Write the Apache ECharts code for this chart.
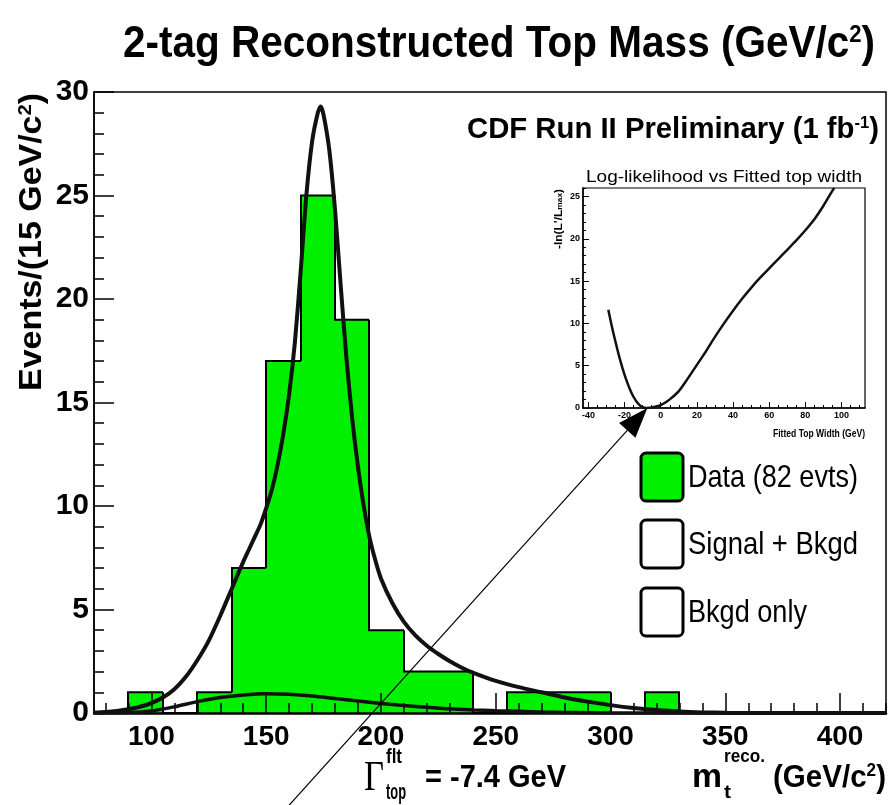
<!DOCTYPE html>
<html><head><meta charset="utf-8">
<script src="https://cdn.jsdelivr.net/npm/echarts@6/dist/echarts.min.js"></script>
<style>html,body{margin:0;padding:0;background:#fff}#c{width:890px;height:805px}</style>
</head><body><div id="c"></div>
<script>
// ---------------- data ----------------
const binLow    = [90,105,120,135,150,165,180,195,210,225,240,255,270,285,300,315];
const binCounts = [1, 0,  1,  7,  17, 25, 19, 4,  2,  2,  0,  1,  1,  1,  0,  1];
const binWidth  = 15;

const fitMass   = [75,80,85,90,95,100,105,110,115,120,125,130,135,140,142.5,145,147.5,150,152.5,155,157.5,160,162.5,165,167.5,170,172.5,173.75,175,177.5,180,182.5,185,187.5,190,192.5,195,197.5,200,205,210,215,220,225,230,235,240,250,260,270,280,290,300,310,320,330,340,350,360,420];
const fitSigBkg = [0.02,0.05,0.1,0.18,0.3,0.48,0.75,1.15,1.75,2.55,3.5,4.7,6.0,7.3,7.9,8.5,9.1,9.9,10.8,12.0,13.5,15.4,17.9,21.3,25.0,27.6,29.0,29.3,28.9,27.2,24.3,20.6,17.1,14.2,11.9,10.0,8.5,7.4,6.5,5.3,4.4,3.75,3.25,2.85,2.5,2.2,1.95,1.55,1.25,1.0,0.75,0.55,0.38,0.24,0.14,0.07,0.03,0.01,0,0];

const bkgMass   = [75,90,100,110,120,130,140,150,160,170,180,190,200,210,220,230,240,250,260,270,280,300,420];
const bkgOnly   = [0,0.02,0.1,0.3,0.55,0.75,0.87,0.93,0.9,0.82,0.7,0.58,0.46,0.36,0.28,0.2,0.15,0.11,0.08,0.05,0.03,0.0,0.0];

const llWidth = [-29,-27,-25,-23,-21,-19,-17,-15,-13,-11,-9,-7.4,-5,-2,0,3,6,10,15,20,25,30,35,40,45,50,55,60,65,70,75,80,85,90,95,96];
const llValue = [11.6,9.6,7.8,6.1,4.6,3.3,2.2,1.3,0.65,0.22,0.03,0,0.05,0.2,0.35,0.7,1.2,2.0,3.5,5.1,6.7,8.4,10.0,11.5,12.9,14.2,15.4,16.5,17.6,18.7,19.8,21.0,22.3,23.9,25.7,26];

const fittedWidth = -7.4;

const xTickLabels      = [100,150,200,250,300,350,400];
const yTickLabels      = [0,5,10,15,20,25,30];
const insetXTickLabels = [-40,-20,0,20,40,60,80,100];
const insetYTickLabels = [0,5,10,15,20,25];

// ---------------- helpers ----------------
const FAM = '"Liberation Sans", Arial, Helvetica, sans-serif';
const SERIF = '"Liberation Serif", "Times New Roman", serif';
const GREEN = '#00f000';
const mctx = document.createElement('canvas').getContext('2d');
function measure(str, size, weight, fam){ mctx.font = (weight||'normal')+' '+size+'px '+(fam||FAM); return mctx.measureText(str).width; }
function range(a,b,s){ const r=[]; for(let v=a; v<=b+1e-9; v+=s) r.push(+v.toFixed(6)); return r; }

function richText(id, x, y, parts, target, opt){
  opt = opt || {};
  const rich = {}; let text = ''; let nat = 0;
  parts.forEach((p,i)=>{
    const [str,size,weight,va,fam] = p;
    const k = 't'+i;
    rich[k] = {fontSize:size, fontWeight:weight||'normal', fontFamily:fam||FAM, fill:'#000', verticalAlign:va||'middle'};
    text += '{'+k+'|'+str+'}';
    nat += measure(str,size,weight,fam);
  });
  return {type:'text', id:id, x:x, y:y, z:100, scaleX: target ? target/nat : 1, rotation: opt.rotation||0,
    style:{text:text, rich:rich, textAlign:opt.align||'left', textVerticalAlign:'middle'}};
}

// ---------------- histogram data ----------------
const histData = binLow.map((lo,i)=>[lo, lo+binWidth, binCounts[i], i>0?binCounts[i-1]:0, i===binLow.length-1?1:0]);

const chart = echarts.init(document.getElementById('c'), null, {renderer:'canvas'});

const axisTxt = {color:'#000', fontFamily:FAM, fontWeight:'bold'};

const option = {
  animation:false,
  backgroundColor:'#fff',
  grid:[
    {left:94, top:92, width:792, height:621, show:true, borderColor:'#000', borderWidth:1.5, backgroundColor:'transparent'},
    {left:583, top:188, width:282, height:220, show:true, borderColor:'#000', borderWidth:1.2, backgroundColor:'#fff'}
  ],
  xAxis:[
    {type:'value', gridIndex:0, min:75, max:420, position:'bottom', z:2,
     axisLine:{show:true, onZero:false, lineStyle:{color:'#000', width:2.5}},
     axisTick:{show:true, inside:true, length:10, customValues: range(80,420,10), lineStyle:{color:'#000', width:1.5}},
     axisLabel:Object.assign({fontSize:28, margin:10, customValues: xTickLabels}, axisTxt),
     splitLine:{show:false}},
    {type:'value', gridIndex:0, min:75, max:420, position:'bottom', z:2,
     axisLine:{show:false, onZero:false}, axisLabel:{show:false}, splitLine:{show:false},
     axisTick:{show:true, inside:true, length:20, customValues: xTickLabels, lineStyle:{color:'#000', width:1.5}}},
    {type:'value', gridIndex:1, min:-43, max:113, position:'bottom', z:2,
     axisLine:{show:true, onZero:false, lineStyle:{color:'#000', width:1.5}},
     axisTick:{show:true, inside:true, length:3, customValues: range(-40,110,5), lineStyle:{color:'#000', width:1}},
     axisLabel:Object.assign({fontSize:9, margin:3, customValues: insetXTickLabels}, axisTxt),
     splitLine:{show:false}},
    {type:'value', gridIndex:1, min:-43, max:113, position:'bottom', z:2,
     axisLine:{show:false, onZero:false}, axisLabel:{show:false}, splitLine:{show:false},
     axisTick:{show:true, inside:true, length:6, customValues: insetXTickLabels, lineStyle:{color:'#000', width:1}}}
  ],
  yAxis:[
    {type:'value', gridIndex:0, min:0, max:30, interval:5, position:'left', z:2,
     axisLine:{show:true, onZero:false, lineStyle:{color:'#000', width:1.5}},
     axisTick:{show:true, inside:true, length:20, lineStyle:{color:'#000', width:1.5}},
     minorTick:{show:true, splitNumber:5, length:10, lineStyle:{color:'#000', width:1.5}},
     axisLabel:Object.assign({fontSize:30, margin:5, customValues: yTickLabels}, axisTxt),
     splitLine:{show:false}, minorSplitLine:{show:false}},
    {type:'value', gridIndex:1, min:0, max:26, position:'left', z:2,
     axisLine:{show:true, onZero:false, lineStyle:{color:'#000', width:1.5}},
     axisTick:{show:true, inside:true, length:3, customValues: range(0,26,1), lineStyle:{color:'#000', width:1}},
     axisLabel:Object.assign({fontSize:9, margin:3, customValues: insetYTickLabels}, axisTxt),
     splitLine:{show:false}},
    {type:'value', gridIndex:1, min:0, max:26, position:'left', z:2,
     axisLine:{show:false, onZero:false}, axisLabel:{show:false}, splitLine:{show:false},
     axisTick:{show:true, inside:true, length:6, customValues: insetYTickLabels, lineStyle:{color:'#000', width:1}}}
  ],
  series:[
    {name:'Data (82 evts)', type:'custom', xAxisIndex:0, yAxisIndex:0, z:1,
     encode:{x:[0,1], y:2}, data:histData,
     renderItem:function(params, api){
       const lo=api.value(0), hi=api.value(1), v=api.value(2), prev=api.value(3), last=api.value(4);
       const tl=api.coord([lo,v]), br=api.coord([hi,0]), tr=api.coord([hi,v]), pl=api.coord([lo,prev]);
       const x0=Math.round(tl[0]), x1=Math.round(br[0]);
       const children=[];
       if(v>0) children.push({type:'rect', shape:{x:x0, y:tl[1], width:x1-x0, height:br[1]-tl[1]}, style:{fill:GREEN}});
       const pts=[[x0,pl[1]], [x0,tl[1]], [x1,tr[1]]]; if(last) pts.push([x1,br[1]]);
       children.push({type:'polyline', shape:{points:pts}, style:{stroke:'#000', lineWidth:2, fill:'none'}});
       return {type:'group', children:children};
     }},
    {name:'Signal + Bkgd', type:'line', xAxisIndex:0, yAxisIndex:0, z:3, symbol:'none', smooth:0.25,
     lineStyle:{color:'#111', width:4}, data: fitMass.map((m,i)=>[m, fitSigBkg[i]])},
    {name:'Bkgd only', type:'line', xAxisIndex:0, yAxisIndex:0, z:3, symbol:'none', smooth:0.3,
     lineStyle:{color:'#111', width:3.5}, data: bkgMass.map((m,i)=>[m, bkgOnly[i]])},
    {name:'-ln(L/Lmax)', type:'line', xAxisIndex:2, yAxisIndex:1, z:3, symbol:'none', smooth:0.3, clip:true,
     lineStyle:{color:'#111', width:2.5}, data: llWidth.map((w,i)=>[w, llValue[i]])}
  ]
};
chart.setOption(option);

// ---------------- annotations / texts ----------------
const tip = chart.convertToPixel({xAxisIndex:2, yAxisIndex:1}, [fittedWidth, 0]);
const S = [283, 812];
const dx = tip[0]-S[0], dy = tip[1]-S[1], L = Math.hypot(dx,dy);
const ux = dx/L, uy = dy/L, nx = -uy, ny = ux;
const headLen = 30, headHalf = 11;
const B = [tip[0]-ux*headLen, tip[1]-uy*headLen];

const graphics = [
  richText('title', 123, 45, [['2-tag Reconstructed Top Mass (GeV/c',44,'bold'],['2',24,'bold','top'],[')',44,'bold']], 752),
  richText('cdf', 467, 130, [['CDF Run II Preliminary (1 fb',30,'bold'],['-1',17,'bold','top'],[')',30,'bold']], 412),
  richText('ytitle', 32, 93, [['Events/(15 GeV/c',32,'bold'],['2',19,'bold','top'],[')',32,'bold']], 298, {rotation:Math.PI/2, align:'right'}),
  richText('insetTitle', 586, 177, [['Log-likelihood vs Fitted top width',17,'normal']], 276),
  richText('insetY', 559, 189, [["-ln(L'/L",10,'bold'],['max',7,'bold','bottom'],[')',10,'bold']], 60, {rotation:Math.PI/2, align:'right'}),
  richText('insetX', 865, 434, [['Fitted Top Width (GeV)',10,'bold']], 92, {align:'right'}),
  // legend
  {type:'rect', id:'lg0', z:100, shape:{x:641, y:453, width:42, height:48, r:5}, style:{fill:GREEN, stroke:'#000', lineWidth:3}},
  {type:'rect', id:'lg1', z:100, shape:{x:641, y:520, width:42, height:48, r:5}, style:{fill:'#fff', stroke:'#000', lineWidth:3}},
  {type:'rect', id:'lg2', z:100, shape:{x:641, y:588, width:42, height:48, r:5}, style:{fill:'#fff', stroke:'#000', lineWidth:3}},
  richText('lt0', 688, 478, [['Data (82 evts)',32,'normal']], 170),
  richText('lt1', 688, 545, [['Signal + Bkgd',32,'normal']], 170),
  richText('lt2', 688, 613, [['Bkgd only',32,'normal']], 119),
  // bottom annotations
  richText('gam', 364, 779, [['\u0393',42,'normal',null,SERIF]], 20),
  richText('flt', 386, 757, [['flt',20,'bold']], 16),
  richText('topsub', 386, 793, [['top',22,'bold']], 20),
  richText('gval', 425, 778, [['= -7.4 GeV',31,'bold']], 141),
  richText('mt', 692, 778, [['m',34,'bold']], 30),
  richText('reco', 724, 757, [['reco.',19,'bold']], 41),
  richText('tsub', 724, 793, [['t',19,'bold']], 7),
  richText('unit', 773, 778, [['(GeV/c',31,'bold'],['2',18,'bold','top'],[')',31,'bold']], 113),
  // arrow
  {type:'line', id:'arrowLine', z:100, shape:{x1:S[0], y1:S[1], x2:B[0], y2:B[1]}, style:{stroke:'#000', lineWidth:1.2}},
  {type:'polygon', id:'arrowHead', z:100, shape:{points:[[tip[0],tip[1]],[B[0]+nx*headHalf,B[1]+ny*headHalf],[B[0]-nx*headHalf,B[1]-ny*headHalf]]}, style:{fill:'#000'}}
];
chart.setOption({graphic: graphics});
</script>
</body></html>
